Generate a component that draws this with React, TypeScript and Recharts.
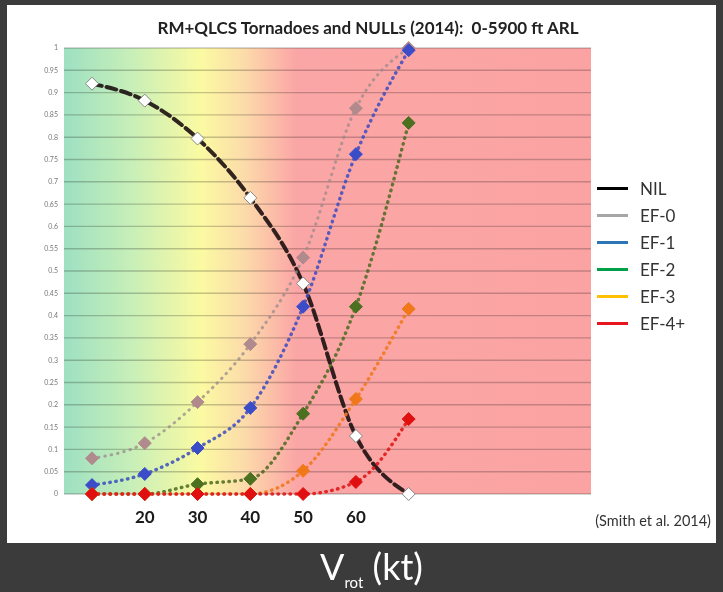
import React from 'react';
import { LineChart, Line, XAxis, YAxis, CartesianGrid } from 'recharts';

// Vrot bins (kt); the chart reserves room for 10 bins, only the first 7 hold data
const categories = [10, 20, 30, 40, 50, 60, 70, 80, 90, 100];
const xLabels = [20, 30, 40, 50, 60];
const yTicks = [0, 0.05, 0.1, 0.15, 0.2, 0.25, 0.3, 0.35, 0.4, 0.45, 0.5, 0.55, 0.6, 0.65, 0.7, 0.75, 0.8, 0.85, 0.9, 0.95, 1];

const nil = [0.92, 0.882, 0.797, 0.664, 0.472, 0.13, 0.0];
const ef0 = [0.08, 0.114, 0.206, 0.336, 0.53, 0.865, 1.0];
const ef1 = [0.02, 0.045, 0.103, 0.193, 0.42, 0.762, 0.995];
const ef2 = [0.0, 0.0, 0.022, 0.034, 0.18, 0.42, 0.832];
const ef3 = [0.0, 0.0, 0.0, 0.0, 0.052, 0.213, 0.415];
const ef4 = [0.0, 0.0, 0.0, 0.0, 0.0, 0.027, 0.168];

const series = [
  { key: 'NIL', values: nil, color: '#1c1010', legend: '#000000', dash: '10 5', width: 4, fill: '#ffffff', opacity: 0.9 },
  { key: 'EF-0', values: ef0, color: '#9a8a8a', legend: '#a6a6a6', dash: '0.5 6', width: 3, fill: '#b08a8c', opacity: 0.75 },
  { key: 'EF-1', values: ef1, color: '#3c4cc0', legend: '#2e75b6', dash: '0.5 5.5', width: 3.4, fill: '#3a4cc8', opacity: 0.85 },
  { key: 'EF-2', values: ef2, color: '#4a6a20', legend: '#00a04a', dash: '0.5 5.5', width: 3.4, fill: '#4a7020', opacity: 0.85 },
  { key: 'EF-3', values: ef3, color: '#f07a20', legend: '#ffc000', dash: '0.5 5.5', width: 3.4, fill: '#f07818', opacity: 0.9 },
  { key: 'EF-4+', values: ef4, color: '#e01818', legend: '#e8141e', dash: '0.5 5.5', width: 3.4, fill: '#e01010', opacity: 0.9 },
];

const data = categories.map((kt, i) => {
  const row: any = { kt };
  series.forEach((s) => {
    row[s.key] = i < s.values.length ? s.values[i] : null;
  });
  return row;
});

const font = 'Lato, "Open Sans", sans-serif';

function diamond(fill: string, stroke: string) {
  return (props: any) => {
    const { cx, cy, key } = props;
    if (cx == null || cy == null || props.value == null) return <g key={key} />;
    const r = 6.5;
    return (
      <polygon
        key={key}
        points={`${cx},${cy - r} ${cx + r},${cy} ${cx},${cy + r} ${cx - r},${cy}`}
        fill={fill}
        stroke={stroke}
        strokeWidth={1}
      />
    );
  };
}

export default function App() {
  return (
    <div style={{ position: 'fixed', left: 0, top: 0, width: 723, height: 592, background: '#3b3b3b', fontFamily: font }}>
      <div style={{ position: 'absolute', left: 7, top: 5, width: 709, height: 538, background: '#ffffff' }}>
        <div style={{ position: 'absolute', left: 0, top: 12, width: 722, textAlign: 'center', fontSize: 17, fontWeight: 700, color: '#222' }}>
          RM+QLCS Tornadoes and NULLs (2014):&nbsp;&nbsp;0-5900 ft ARL
        </div>
        <LineChart width={709} height={538} data={data} margin={{ top: 43, right: 125, bottom: 19, left: 0 }}>
          <defs>
            <linearGradient id="bgGrad" x1="0" y1="0" x2="1" y2="0">
              <stop offset="0%" stopColor="#9ee0c2" />
              <stop offset="13%" stopColor="#c8efb8" />
              <stop offset="26%" stopColor="#fbfaa2" />
              <stop offset="34%" stopColor="#fcdcaa" />
              <stop offset="44%" stopColor="#fba6a6" />
              <stop offset="100%" stopColor="#fba3a3" />
            </linearGradient>
          </defs>
          <CartesianGrid vertical={false} fill="url(#bgGrad)" fillOpacity={1} stroke="#000" strokeOpacity={0.22} strokeWidth={1.4} />
          <XAxis
            dataKey="kt"
            type="category"
            axisLine={false}
            tickLine={false}
            tickSize={0}
            tickMargin={17}
            interval={0}
            height={30}
            padding={{ left: 28, right: 24 }}
            tickFormatter={(v: number) => (xLabels.includes(v) ? String(v) : '')}
            tick={{ fontSize: 17, fontWeight: 700, fill: '#1a1a1a', fontFamily: font }}
          />
          <YAxis
            domain={[0, 1]}
            ticks={yTicks}
            width={57}
            axisLine={false}
            tickLine={false}
            tickSize={0}
            tickMargin={6}
            interval={0}
            tick={{ fontSize: 7, fill: '#777', fontFamily: font }}
          />
          {series.map((s) => (
            <Line
              key={s.key}
              dataKey={s.key}
              type="monotone"
              stroke={s.color}
              strokeWidth={s.width}
              strokeDasharray={s.dash}
              strokeLinecap="round"
              strokeOpacity={s.opacity}
              dot={diamond(s.fill, s.key === 'NIL' ? '#888' : s.fill)}
              activeDot={false}
              connectNulls={false}
              isAnimationActive={false}
            />
          ))}
        </LineChart>
        <div style={{ position: 'absolute', left: 590, top: 170 }}>
          {series.map((s) => (
            <div key={s.key} style={{ display: 'flex', alignItems: 'center', height: 27 }}>
              <div style={{ width: 31, height: 3.5, background: s.legend, marginRight: 12 }} />
              <span style={{ fontSize: 17, color: '#333' }}>{s.key}</span>
            </div>
          ))}
        </div>
        <div style={{ position: 'absolute', right: 5, top: 507, fontSize: 14.5, color: '#333' }}>(Smith et al. 2014)</div>
      </div>
      <div style={{ position: 'absolute', left: 10, top: 541, width: 723, textAlign: 'center', color: '#fff', fontSize: 36, lineHeight: '50px' }}>
        V<sub style={{ fontSize: 15 }}>rot</sub> (kt)
      </div>
    </div>
  );
}
